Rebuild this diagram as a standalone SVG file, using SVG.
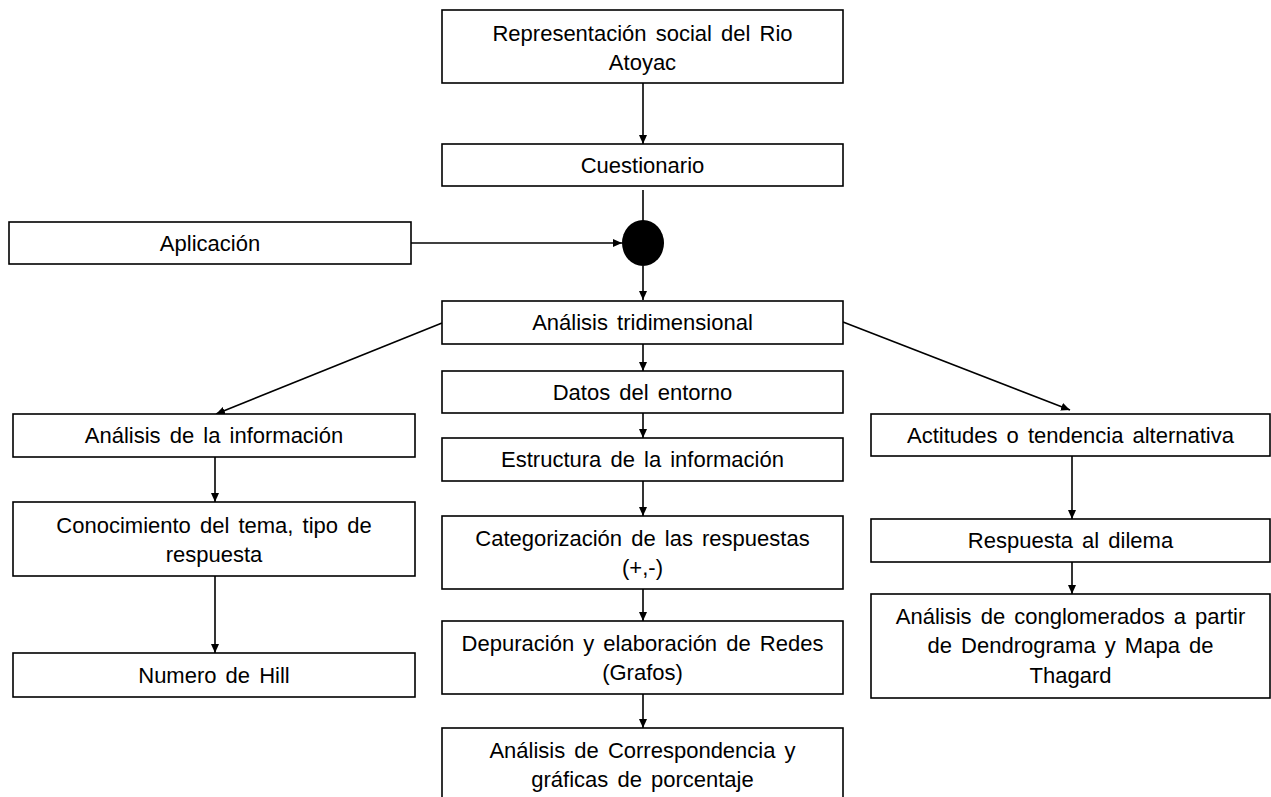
<svg xmlns="http://www.w3.org/2000/svg" width="1271" height="797" viewBox="0 0 1271 797">
<style>
.box{fill:#fff;stroke:#000;stroke-width:1.6}
.t{font-family:"Liberation Sans",Arial,sans-serif;font-size:22px;fill:#000;text-anchor:middle;word-spacing:3px}
.c{stroke:#000;stroke-width:1.6;fill:none;marker-end:url(#ah)}
</style>
<defs>
<marker id="ah" markerUnits="userSpaceOnUse" markerWidth="10" markerHeight="8" refX="9" refY="4" orient="auto">
<path d="M0,0 L9,4 L0,8 z" fill="#000"/>
</marker>
</defs>
<rect width="1271" height="797" fill="#fff"/>
<g id="connectors">
<line class="c" x1="643" y1="83" x2="643" y2="144"/>
<line x1="643" y1="190" x2="643" y2="222" stroke="#000" stroke-width="1.6"/>
<line class="c" x1="411" y1="243" x2="622" y2="243"/>
<line class="c" x1="643" y1="266" x2="643" y2="300"/>
<line class="c" x1="442" y1="323" x2="216" y2="414"/>
<line class="c" x1="843" y1="322" x2="1070" y2="410"/>
<line class="c" x1="643" y1="344" x2="643" y2="371"/>
<line class="c" x1="643" y1="413" x2="643" y2="438"/>
<line class="c" x1="643" y1="481" x2="643" y2="516"/>
<line class="c" x1="643" y1="589" x2="643" y2="621"/>
<line class="c" x1="643" y1="694" x2="643" y2="728"/>
<line class="c" x1="215" y1="457" x2="215" y2="502"/>
<line class="c" x1="215" y1="576" x2="215" y2="653"/>
<line class="c" x1="1072" y1="456" x2="1072" y2="519"/>
<line class="c" x1="1072" y1="562" x2="1072" y2="594"/>
</g>
<g id="n-rep"><rect class="box" x="442" y="10" width="401" height="73"/><text class="t" x="642.5" y="41">Representación social del Rio</text><text class="t" x="642.5" y="70">Atoyac</text></g>
<g id="n-cuest"><rect class="box" x="442" y="144" width="401" height="42"/><text class="t" x="642.5" y="173">Cuestionario</text></g>
<g id="n-junction"><ellipse cx="643" cy="243" rx="21" ry="23" fill="#000"/></g>
<g id="n-aplic"><rect class="box" x="9" y="222" width="402" height="42"/><text class="t" x="210" y="251">Aplicación</text></g>
<g id="n-tri"><rect class="box" x="442" y="301" width="401" height="43"/><text class="t" x="642.5" y="330">Análisis tridimensional</text></g>
<g id="n-datos"><rect class="box" x="442" y="371" width="401" height="42"/><text class="t" x="642.5" y="400">Datos del entorno</text></g>
<g id="n-estr"><rect class="box" x="442" y="438" width="401" height="43"/><text class="t" x="642.5" y="467">Estructura de la información</text></g>
<g id="n-cat"><rect class="box" x="442" y="516" width="401" height="73"/><text class="t" x="642.5" y="546">Categorización de las respuestas</text><text class="t" x="642.5" y="575">(+,-)</text></g>
<g id="n-dep"><rect class="box" x="442" y="621" width="401" height="73"/><text class="t" x="642.5" y="651">Depuración y elaboración de Redes</text><text class="t" x="642.5" y="680">(Grafos)</text></g>
<g id="n-corr"><rect class="box" x="442" y="728" width="401" height="90"/><text class="t" x="642.5" y="758">Análisis de Correspondencia y</text><text class="t" x="642.5" y="787">gráficas de porcentaje</text></g>
<g id="n-ainf"><rect class="box" x="13" y="414" width="402" height="43"/><text class="t" x="214" y="443">Análisis de la información</text></g>
<g id="n-conoc"><rect class="box" x="13" y="502" width="402" height="74"/><text class="t" x="214" y="533">Conocimiento del tema, tipo de</text><text class="t" x="214" y="562">respuesta</text></g>
<g id="n-hill"><rect class="box" x="13" y="653" width="402" height="44"/><text class="t" x="214" y="683">Numero de Hill</text></g>
<g id="n-act"><rect class="box" x="871" y="414" width="399" height="42"/><text class="t" x="1070.5" y="443">Actitudes o tendencia alternativa</text></g>
<g id="n-resp"><rect class="box" x="871" y="519" width="399" height="43"/><text class="t" x="1070.5" y="548">Respuesta al dilema</text></g>
<g id="n-cong"><rect class="box" x="871" y="594" width="399" height="104"/><text class="t" x="1070.5" y="624">Análisis de conglomerados a partir</text><text class="t" x="1070.5" y="653">de  Dendrograma y Mapa de</text><text class="t" x="1070.5" y="683">Thagard</text></g>
</svg>
